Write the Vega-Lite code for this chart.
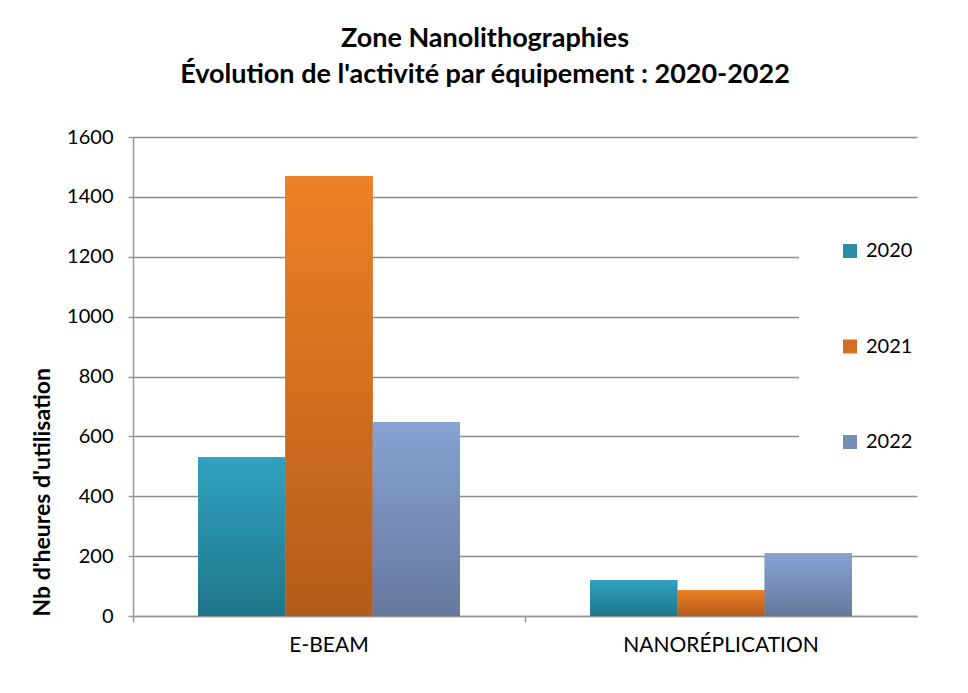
{
  "$schema": "https://vega.github.io/schema/vega-lite/v6.json",
  "autosize": {"type": "none"},
  "padding": {"left": 133, "top": 137, "right": 51, "bottom": 77},
  "width": 784,
  "height": 479,
  "background": "white",
  "title": {
    "text": ["Zone Nanolithographies", "Évolution de l'activité par équipement : 2020-2022"],
    "anchor": "middle",
    "frame": "group",
    "dx": -40,
    "font": "Lato",
    "fontSize": 27,
    "fontWeight": "bold",
    "color": "black",
    "lineHeight": 36,
    "offset": 38
  },
  "data": {
    "values": [
      {"equipement": "E-BEAM", "annee": "2020", "heures": 530},
      {"equipement": "E-BEAM", "annee": "2021", "heures": 1470},
      {"equipement": "E-BEAM", "annee": "2022", "heures": 648},
      {"equipement": "NANORÉPLICATION", "annee": "2020", "heures": 120},
      {"equipement": "NANORÉPLICATION", "annee": "2021", "heures": 87},
      {"equipement": "NANORÉPLICATION", "annee": "2022", "heures": 210}
    ]
  },
  "encoding": {
    "x": {
      "field": "equipement",
      "type": "nominal",
      "sort": null,
      "scale": {"paddingInner": 0, "paddingOuter": 0},
      "axis": {
        "title": null,
        "labelAngle": 0,
        "bandPosition": 0,
        "labelLimit": 0,
        "labelFont": "Lato",
        "labelFontSize": 21,
        "labelColor": "black",
        "labelPadding": 12,
        "tickSize": 6,
        "tickColor": "#999999",
        "tickWidth": 1.5,
        "domainColor": "#999999",
        "domainWidth": 1.5,
        "grid": false
      }
    },
    "xOffset": {
      "field": "annee",
      "type": "nominal",
      "scale": {"paddingInner": 0, "paddingOuter": 0.745}
    },
    "y": {
      "field": "heures",
      "type": "quantitative",
      "scale": {"domain": [0, 1600], "nice": false},
      "axis": {
        "title": "Nb d'heures d'utilisation",
        "titleFont": "Lato",
        "titleFontSize": 23,
        "titleFontWeight": "bold",
        "titleColor": "black",
        "titleAnchor": "start",
        "titlePadding": 12,
        "values": [0, 200, 400, 600, 800, 1000, 1200, 1400, 1600],
        "format": "d",
        "labelFont": "Lato",
        "labelFontSize": 20,
        "labelColor": "black",
        "labelPadding": 15,
        "tickSize": 5,
        "tickColor": "#999999",
        "tickWidth": 1.5,
        "domainColor": "#999999",
        "domainWidth": 1.5,
        "gridColor": "#8c8c8c",
        "gridWidth": 1.5
      }
    }
  },
  "layer": [
    {
      "mark": {"type": "bar"},
      "encoding": {
        "color": {
          "field": "annee",
          "type": "nominal",
          "scale": {"domain": ["2020", "2021", "2022"], "range": ["#2A8CA6", "#D46E20", "#768DB8"]},
          "legend": {
            "title": null,
            "orient": "none",
            "legendX": 666,
            "legendY": 63,
            "padding": 41,
            "fillColor": "white",
            "symbolType": "square",
            "symbolSize": 196,
            "symbolStrokeWidth": 0,
            "symbolOpacity": 1,
            "labelFont": "Lato",
            "labelFontSize": 20,
            "labelColor": "black",
            "labelOffset": 6,
            "rowPadding": 75.5
          }
        }
      }
    },
    {
      "transform": [{"filter": "datum.annee === '2020'"}],
      "mark": {"type": "bar", "color": {"gradient": "linear", "x1": 0, "y1": 0, "x2": 0, "y2": 1, "stops": [{"offset": 0, "color": "#31A2C0"}, {"offset": 1, "color": "#1F7688"}]}}
    },
    {
      "transform": [{"filter": "datum.annee === '2021'"}],
      "mark": {"type": "bar", "color": {"gradient": "linear", "x1": 0, "y1": 0, "x2": 0, "y2": 1, "stops": [{"offset": 0, "color": "#EE8025"}, {"offset": 1, "color": "#B35C1B"}]}}
    },
    {
      "transform": [{"filter": "datum.annee === '2022'"}],
      "mark": {"type": "bar", "color": {"gradient": "linear", "x1": 0, "y1": 0, "x2": 0, "y2": 1, "stops": [{"offset": 0, "color": "#87A3D3"}, {"offset": 1, "color": "#65789C"}]}}
    }
  ],
  "config": {
    "view": {"stroke": null}
  }
}
